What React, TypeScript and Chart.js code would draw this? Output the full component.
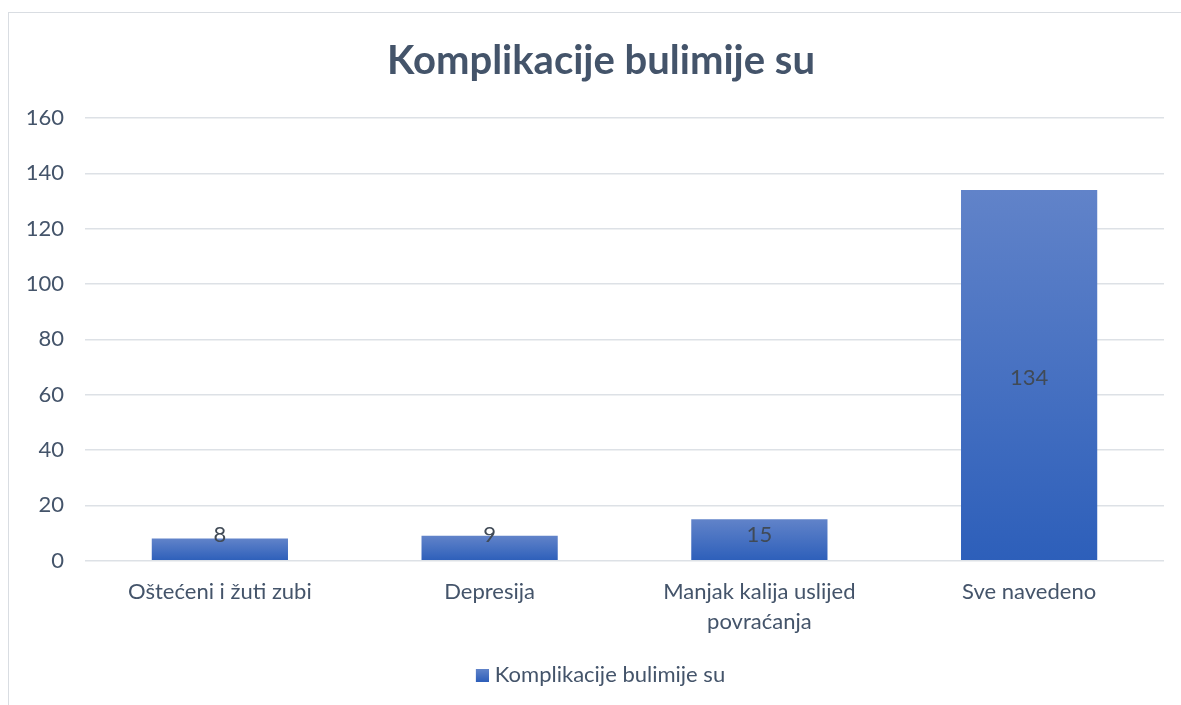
import React, { useEffect, useRef } from "react";
import { Chart, registerables } from "chart.js";

Chart.register(...registerables);

const categories: (string | string[])[] = [
  "Oštećeni i žuti zubi",
  "Depresija",
  ["Manjak kalija uslijed", "povraćanja"],
  "Sve navedeno",
];
const seriesName = "Komplikacije bulimije su";
const seriesValues = [8, 9, 15, 134];
const titleText = "Komplikacije bulimije su";

const FONT = "Lato, 'Open Sans', sans-serif";
const TEXT = "#44546a";
const FS = 22;

const labelPlugin = {
  id: "centerLabels",
  afterLayout(chart: any) {
    // let the y tick labels use the space to the left of the axis box
    if (chart.scales.y) chart.scales.y.left = 0;
  },
  afterDatasetsDraw(chart: any) {
    const ctx = chart.ctx;
    const meta = chart.getDatasetMeta(0);
    ctx.save();
    ctx.font = `${FS}px ${FONT}`;
    ctx.fillStyle = "#404a56";
    ctx.textAlign = "center";
    ctx.textBaseline = "middle";
    meta.data.forEach((bar: any, i: number) => {
      const center = (bar.y + bar.base) / 2 + 3;
      const y = Math.min(center, bar.base - 25);
      ctx.fillText(String(seriesValues[i]), bar.x, y);
    });
    ctx.restore();
  },
};

function barGradient(context: any) {
  const chart = context.chart;
  const c = chart.ctx;
  const yScale = chart.scales?.y;
  if (!yScale || context.type !== "data") return "#4472c4";
  const v = context.raw as number;
  const top = yScale.getPixelForValue(v);
  const bottom = yScale.getPixelForValue(0);
  const g = c.createLinearGradient(0, top, 0, bottom);
  g.addColorStop(0, "#6183c9");
  g.addColorStop(1, "#2d5fba");
  return g;
}

function legendSwatch(): HTMLCanvasElement {
  const cv = document.createElement("canvas");
  cv.width = 17;
  cv.height = 13;
  const c = cv.getContext("2d")!;
  const g = c.createLinearGradient(0, 0, 0, 13);
  g.addColorStop(0, "#6385ca");
  g.addColorStop(1, "#2e5fba");
  c.fillStyle = g;
  c.fillRect(4, 0, 13, 13);
  return cv;
}

export default function App() {
  const ref = useRef<HTMLCanvasElement>(null);
  useEffect(() => {
    document.body.style.overflow = "hidden";
    document.documentElement.style.overflow = "hidden";
    const canvas = ref.current!;
    const swatch = legendSwatch();
    const chart = new Chart(canvas, {
      type: "bar",
      data: {
        labels: categories,
        datasets: [
          {
            label: seriesName,
            data: seriesValues,
            backgroundColor: barGradient as any,
            borderWidth: 0,
            categoryPercentage: 1,
            barPercentage: 0.505,
          },
        ],
      },
      options: {
        responsive: false,
        animation: false,
        layout: { padding: { left: 29, right: 17, top: 0, bottom: 9 } },
        plugins: {
          title: {
            display: true,
            text: titleText,
            color: TEXT,
            font: { family: FONT, size: 40, weight: "bold" },
            padding: { top: 24, bottom: 33 },
          },
          legend: {
            display: true,
            position: "bottom",
            labels: {
              color: TEXT,
              font: { family: FONT, size: FS },
              usePointStyle: true,
              boxWidth: 13,
              boxHeight: 13,
              pointStyleWidth: 7,
              padding: 11,
              generateLabels: () => [
                {
                  text: seriesName,
                  pointStyle: swatch as any,
                  fillStyle: "#4472c4",
                  strokeStyle: "rgba(0,0,0,0)",
                  lineWidth: 0,
                  datasetIndex: 0,
                  fontColor: TEXT,
                } as any,
              ],
            },
          },
          tooltip: { enabled: false },
        },
        scales: {
          x: {
            grid: { display: false, drawTicks: false },
            border: { display: false },
            ticks: {
              color: TEXT,
              font: { family: FONT, size: FS, lineHeight: 1.37 },
              padding: 16,
              maxRotation: 0,
              autoSkip: false,
            },
          },
          y: {
            min: 0,
            max: 160,
            afterFit: (s: any) => {
              s.width = 47;
            },
            grid: { color: "#dde1e6", lineWidth: 1.5, drawTicks: false },
            border: { display: false },
            ticks: {
              stepSize: 20,
              color: TEXT,
              font: { family: FONT, size: FS },
              padding: 21,
            },
          },
        },
      },
      plugins: [labelPlugin],
    });
    return () => chart.destroy();
  }, []);
  return (
    <div
      style={{
        position: "fixed",
        left: 8,
        top: 12,
        width: 1200,
        height: 720,
        border: "1px solid #d9dde2",
        boxSizing: "border-box",
        background: "#fff",
      }}
    >
      <canvas ref={ref} width={1172} height={692} style={{ display: "block" }} />
    </div>
  );
}
